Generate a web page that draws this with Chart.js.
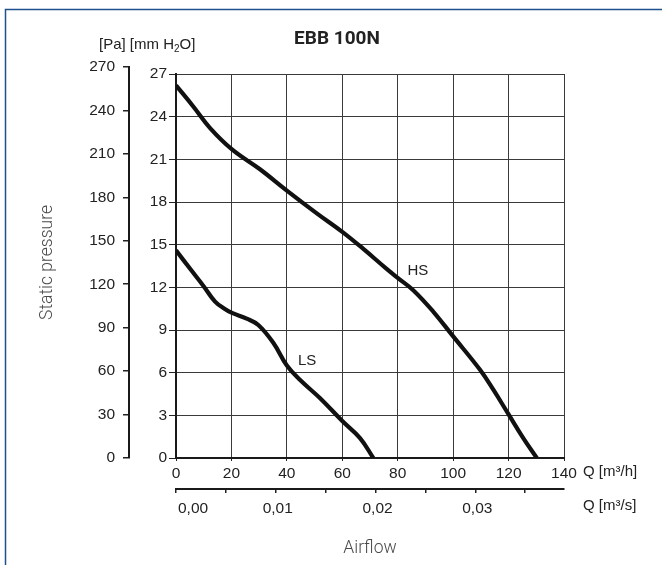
<!DOCTYPE html>
<html><head><meta charset="utf-8">
<script src="https://cdn.jsdelivr.net/npm/chart.js@4/dist/chart.umd.min.js"></script>
<style>html,body{margin:0;padding:0;background:#fff;}canvas{display:block}</style>
</head><body>
<canvas id="c" width="662" height="565"></canvas>
<script>
// ---- data ----
const chartTitle = 'EBB 100N';
const hsFlow     = [0, 6.3, 12.3, 20.2, 30.3, 40.0, 50.8, 60.0, 67.6, 76.0, 80.1, 85.6, 92.8, 99.8, 109.7, 114.5, 119.9, 125.3, 130.2];
const hsPressure = [26.2, 24.7, 23.2, 21.7, 20.3, 18.8, 17.2, 15.9, 14.7, 13.3, 12.65, 11.8, 10.3, 8.6, 6.2, 4.8, 3.1, 1.4, 0];
const lsFlow     = [0, 5.1, 9.9, 14.1, 17.5, 20.2, 25.5, 29.7, 35.1, 40.0, 44.7, 52.0, 60.0, 66.4, 71.2];
const lsPressure = [14.6, 13.3, 12.1, 11.0, 10.5, 10.2, 9.8, 9.35, 8.1, 6.5, 5.5, 4.2, 2.6, 1.4, 0];
const curveNames = ['HS', 'LS'];
const curveLabelFlow = [87.3, 47.3];
const curveLabelPressure = [13.15, 6.8];
const flowMax = 140, flowStep = 20;           // m3/h
const mmMax = 27, mmStep = 3;                 // mm H2O
const paMax = 270, paStep = 30;               // Pa
const secTicks  = [0, 0.005, 0.01, 0.015, 0.02, 0.025, 0.03, 0.035];   // m3/s
const secLabels = ['0,00', '', '0,01', '', '0,02', '', '0,03', ''];
const pressureTitle = 'Static pressure';
const flowTitle = 'Airflow';

const tickFont = {family: "'Liberation Sans', Arial, sans-serif", size: 15.5};
const ink = '#222';

function pts(xs, ys){ return xs.map((x,i)=>({x:x, y:ys[i]})); }

const decor = {
  id: 'decor',
  beforeDraw(chart){
    const ctx = chart.ctx;
    ctx.save();
    ctx.fillStyle = '#fff';
    ctx.fillRect(0,0,chart.width,chart.height);
    ctx.strokeStyle = '#1f4f8c';
    ctx.lineWidth = 1.5;
    ctx.beginPath();
    ctx.moveTo(5.5, chart.height); ctx.lineTo(5.5, 9.5); ctx.lineTo(chart.width, 9.5);
    ctx.stroke();
    ctx.restore();
  },
  afterLayout(chart){
    const pa = chart.scales.pa, y = chart.scales.y;
    pa.top = y.top - 7;
    pa.configure();
  },
  afterDraw(chart){
    const ctx = chart.ctx, xs = chart.scales.x, ys = chart.scales.y, x2 = chart.scales.x2;
    const area = chart.chartArea;
    ctx.save();
    ctx.fillStyle = ink;
    ctx.textBaseline = 'middle';
    // title
    ctx.font = "bold 19px Roboto, sans-serif";
    ctx.textAlign = 'center';
    ctx.fillText(chartTitle, 337, 39);
    // units header
    ctx.font = "15px 'Liberation Sans', Arial, sans-serif";
    ctx.textAlign = 'left';
    let px = 99, py = 45;
    const t1 = '[Pa] [mm H';
    ctx.fillText(t1, px, py); px += ctx.measureText(t1).width;
    ctx.font = "10px 'Liberation Sans', Arial, sans-serif";
    ctx.fillText('2', px, py + 4); px += ctx.measureText('2').width;
    ctx.font = "15px 'Liberation Sans', Arial, sans-serif";
    ctx.fillText('O]', px, py);
    // axis unit labels
    ctx.fillText('Q [m\u00b3/h]', area.right + 19, xs.top + 14);
    ctx.fillText('Q [m\u00b3/s]', area.right + 19, x2.top + 17);
    // curve labels
    ctx.textAlign = 'center';
    curveNames.forEach((n,i)=>{
      ctx.fillText(n, xs.getPixelForValue(curveLabelFlow[i]), ys.getPixelForValue(curveLabelPressure[i]));
    });
    ctx.restore();
  }
};

new Chart(document.getElementById('c'), {
  type: 'line',
  data: {
    datasets: [
      {label: curveNames[0], data: pts(hsFlow, hsPressure)},
      {label: curveNames[1], data: pts(lsFlow, lsPressure)}
    ]
  },
  options: {
    responsive: false,
    animation: false,
    devicePixelRatio: 1,
    layout: {padding: {left: 20, top: 74, right: 98, bottom: 6}},
    elements: {
      line: {borderColor: '#111', borderWidth: 4.2, tension: 0.4, fill: false, borderCapStyle: 'butt', borderJoinStyle: 'round'},
      point: {radius: 0, hoverRadius: 0}
    },
    plugins: {legend: {display: false}, tooltip: {enabled: false}, title: {display: false}},
    scales: {
      x: {
        type: 'linear', position: 'bottom', min: 0, max: flowMax,
        ticks: {stepSize: flowStep, font: tickFont, color: ink, padding: 3, maxRotation: 0},
        grid: {color: '#3a3a3a', lineWidth: 1, tickLength: 3, tickColor: ink},
        border: {display: true, color: '#1a1a1a', width: 2},
        afterFit: s => { s.height = 31; }
      },
      x2: {
        type: 'linear', position: 'bottom', min: 0, max: flowMax / 3600,
        afterBuildTicks: s => { s.ticks = secTicks.map(v => ({value: v})); },
        ticks: {font: tickFont, color: ink, padding: 6, maxRotation: 0, align: 'inner', labelOffset: 2,
                callback: (v, i) => secLabels[i]},
        grid: {drawOnChartArea: false, tickLength: 4, color: ink, lineWidth: 1.5},
        border: {display: true, color: '#1a1a1a', width: 2},
        title: {display: true, text: flowTitle, color: '#4a4a4a', font: {family: 'Roboto, sans-serif', weight: '300', size: 17.5}, padding: {top: 0, bottom: 0}},
        afterFit: s => { s.height = 70; }
      },
      y: {
        type: 'linear', position: 'left', weight: 0, min: 0, max: mmMax,
        ticks: {stepSize: mmStep, font: tickFont, color: ink, padding: 2},
        grid: {color: '#3a3a3a', lineWidth: 1, tickLength: 7, tickColor: ink},
        border: {display: true, color: '#1a1a1a', width: 2},
        afterFit: s => { s.width = 47; }
      },
      pa: {
        type: 'linear', position: 'left', weight: 1, min: 0, max: paMax,
        ticks: {stepSize: paStep, font: tickFont, color: ink, padding: 8},
        grid: {drawOnChartArea: false, tickLength: 6, color: ink, lineWidth: 1.5},
        border: {display: true, color: '#1a1a1a', width: 2},
        title: {display: true, text: pressureTitle, color: '#4a4a4a', font: {family: 'Roboto, sans-serif', weight: '300', size: 17.5}, padding: {top: 17, bottom: 0}},
        afterFit: s => { s.width = 109; }
      }
    }
  },
  plugins: [decor]
});
</script>
</body></html>
